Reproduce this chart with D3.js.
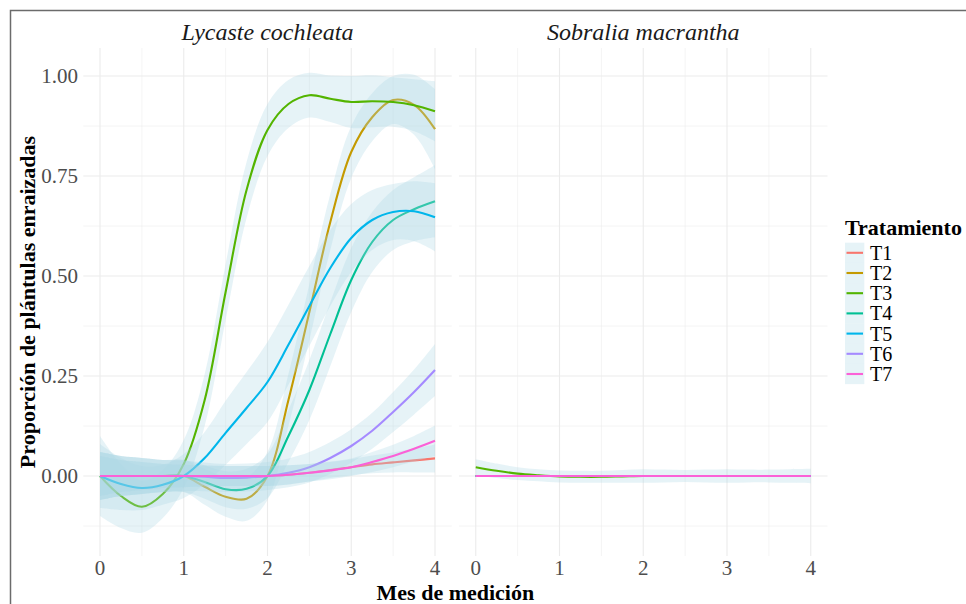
<!DOCTYPE html>
<html><head><meta charset="utf-8">
<script src="https://cdn.jsdelivr.net/npm/d3@7"></script>
<style>body{margin:0;background:#fff}svg{display:block}</style>
</head><body>
<svg id="chart" width="966" height="604"></svg>
<script>
// ---- data ----
const months = [0,0.25,0.5,0.75,1,1.25,1.5,1.75,2,2.25,2.5,2.75,3,3.25,3.5,3.75,4];
const treatments = ["T1","T2","T3","T4","T5","T6","T7"];
const treatmentColors = ["#F8766D","#C49A00","#53B400","#00C094","#00B6EB","#A58AFF","#FB61D7"];
const species = ["Lycaste cochleata","Sobralia macrantha"];
const xTicks = [0,1,2,3,4];
const yTicks = [0,0.25,0.5,0.75,1];

// Lycaste cochleata: smoothed fit and half-width of confidence band
const lycaste_T1 = [0,0,0,0,0,0,0,0,0,0.003,0.008,0.015,0.022,0.029,0.034,0.039,0.044];
const lycaste_T2 = [0,0,0,0,0,-0.027,-0.052,-0.057,0,0.19,0.41,0.635,0.81,0.897,0.94,0.928,0.867];
const lycaste_T3 = [0,-0.05,-0.077,-0.045,0.03,0.19,0.46,0.715,0.865,0.93,0.952,0.943,0.935,0.937,0.935,0.927,0.912];
const lycaste_T4 = [0,0,0,0,0,-0.015,-0.033,-0.032,0,0.1,0.215,0.355,0.49,0.585,0.64,0.667,0.687];
const lycaste_T5 = [0,-0.02,-0.03,-0.022,0,0.045,0.108,0.17,0.235,0.328,0.425,0.52,0.595,0.64,0.66,0.662,0.647];
const lycaste_T6 = [0,0,0,0,0,-0.002,-0.005,-0.004,0,0.008,0.022,0.045,0.075,0.113,0.16,0.21,0.265];
const lycaste_T7 = [0,0,0,0,0,0,0,0,0,0.003,0.008,0.014,0.022,0.035,0.05,0.068,0.088];

const lycaste_ci_T1 = [0.05,0.04,0.035,0.03,0.028,0.026,0.025,0.025,0.025,0.024,0.022,0.02,0.02,0.022,0.025,0.03,0.035];
const lycaste_ci_T2 = [0.06,0.05,0.045,0.04,0.04,0.045,0.05,0.055,0.06,0.065,0.07,0.07,0.065,0.06,0.06,0.075,0.1];
const lycaste_ci_T3 = [0.1,0.08,0.065,0.06,0.06,0.065,0.07,0.07,0.065,0.06,0.056,0.058,0.065,0.065,0.062,0.065,0.075];
const lycaste_ci_T4 = [0.06,0.05,0.045,0.04,0.04,0.042,0.045,0.05,0.055,0.065,0.075,0.08,0.08,0.075,0.075,0.08,0.09];
const lycaste_ci_T5 = [0.08,0.065,0.055,0.05,0.055,0.065,0.08,0.09,0.1,0.1,0.1,0.095,0.085,0.075,0.07,0.075,0.085];
const lycaste_ci_T6 = [0.06,0.05,0.045,0.04,0.038,0.036,0.035,0.035,0.035,0.036,0.038,0.04,0.042,0.045,0.05,0.056,0.065];
const lycaste_ci_T7 = [0.05,0.04,0.035,0.03,0.028,0.026,0.025,0.025,0.025,0.024,0.022,0.022,0.022,0.025,0.028,0.032,0.038];

// Sobralia macrantha
const sobralia_T3 = [0.022,0.013,0.006,0.002,-0.001,-0.002,-0.002,-0.001,0,0,0,0,0,0,0,0,0];
const sobralia_zero = [0,0,0,0,0,0,0,0,0,0,0,0,0,0,0,0,0];
const sobralia_ci_T3 = [0.02,0.018,0.016,0.015,0.015,0.015,0.015,0.016,0.017,0.016,0.015,0.016,0.017,0.016,0.016,0.017,0.018];

const panelFits = [
  [lycaste_T1,lycaste_T2,lycaste_T3,lycaste_T4,lycaste_T5,lycaste_T6,lycaste_T7],
  [sobralia_zero,sobralia_zero,sobralia_T3,sobralia_zero,sobralia_zero,sobralia_zero,sobralia_zero]
];
const panelCI = [
  [lycaste_ci_T1,lycaste_ci_T2,lycaste_ci_T3,lycaste_ci_T4,lycaste_ci_T5,lycaste_ci_T6,lycaste_ci_T7],
  [sobralia_zero,sobralia_zero,sobralia_ci_T3,sobralia_zero,sobralia_zero,sobralia_zero,sobralia_zero]
];

// ---- drawing ----
const svg = d3.select("#chart");
const FONT = "'Liberation Serif','Times New Roman',serif";
const ribbonFill = "#add8e6", ribbonOpacity = 0.3;
svg.append("rect").attr("width",966).attr("height",604).attr("fill","#fff");
svg.append("rect").attr("x",10.5).attr("y",10.5).attr("width",2000).attr("height",2000)
  .attr("fill","none").attr("stroke","#6b6b6b").attr("stroke-width",1.5);

const panelTop = 48, panelBottom = 556;
const y = d3.scaleLinear().domain([-0.2,1.07]).range([panelBottom, panelTop]);
const panels = [[83.25,451.75],[459,827.5]];
const curve = d3.curveCatmullRom.alpha(0.5);

panels.forEach((pr, p) => {
  const x = d3.scaleLinear().domain([-0.2,4.2]).range(pr);
  const g = svg.append("g");
  const minorX = xTicks.slice(0,-1).map(v=>v+0.5);
  const minorY = [-0.125].concat(yTicks.slice(0,-1).map(v=>v+0.125));
  minorX.forEach(v=>g.append("line").attr("x1",x(v)).attr("x2",x(v)).attr("y1",panelTop).attr("y2",panelBottom)
    .attr("stroke","#ebebeb").attr("stroke-width",0.55));
  minorY.forEach(v=>g.append("line").attr("x1",pr[0]).attr("x2",pr[1]).attr("y1",y(v)).attr("y2",y(v))
    .attr("stroke","#ebebeb").attr("stroke-width",0.55));
  xTicks.forEach(v=>g.append("line").attr("x1",x(v)).attr("x2",x(v)).attr("y1",panelTop).attr("y2",panelBottom)
    .attr("stroke","#ebebeb").attr("stroke-width",1.1));
  yTicks.forEach(v=>g.append("line").attr("x1",pr[0]).attr("x2",pr[1]).attr("y1",y(v)).attr("y2",y(v))
    .attr("stroke","#ebebeb").attr("stroke-width",1.1));

  const area = d3.area().x(d=>x(d.m)).y0(d=>y(d.v-d.c)).y1(d=>y(d.v+d.c)).curve(curve);
  const line = d3.line().x(d=>x(d.m)).y(d=>y(d.v)).curve(curve);
  treatments.forEach((t,i)=>{
    const pts = months.map((m,k)=>({m, v: panelFits[p][i][k], c: panelCI[p][i][k]}));
    g.append("path").attr("d",area(pts)).attr("fill",ribbonFill).attr("fill-opacity",ribbonOpacity);
    g.append("path").attr("d",line(pts)).attr("fill","none").attr("stroke",treatmentColors[i]).attr("stroke-width",2.1);
  });

  svg.append("text").attr("x",(pr[0]+pr[1])/2).attr("y",40).attr("text-anchor","middle")
    .attr("font-family",FONT).attr("font-style","italic").attr("font-size",24).attr("fill","#1a1a1a").text(species[p]);
  xTicks.forEach(v=>svg.append("text").attr("x",x(v)).attr("y",575).attr("text-anchor","middle")
    .attr("font-family",FONT).attr("font-size",21).attr("fill","#4d4d4d").text(d3.format("d")(v)));
});

yTicks.forEach(v=>svg.append("text").attr("x",78).attr("y",y(v)).attr("dy","0.35em").attr("text-anchor","end")
  .attr("font-family",FONT).attr("font-size",21).attr("fill","#4d4d4d").text(d3.format(".2f")(v)));

svg.append("text").attr("x",455.4).attr("y",600).attr("text-anchor","middle")
  .attr("font-family",FONT).attr("font-weight","bold").attr("font-size",22).attr("fill","#000").text("Mes de medición");
svg.append("text").attr("transform",`translate(35,${(panelTop+panelBottom)/2}) rotate(-90)`).attr("text-anchor","middle")
  .attr("font-family",FONT).attr("font-weight","bold").attr("font-size",22).attr("fill","#000").text("Proporción de plántulas enraizadas");

const lg = svg.append("g");
lg.append("text").attr("x",845).attr("y",235).attr("font-family",FONT).attr("font-weight","bold")
  .attr("font-size",22).attr("fill","#000").text("Tratamiento");
treatments.forEach((t,i)=>{
  const ky = 242.7 + i*20.2;
  lg.append("rect").attr("x",845).attr("y",ky).attr("width",19.3).attr("height",20.2)
    .attr("fill",ribbonFill).attr("fill-opacity",ribbonOpacity);
  lg.append("line").attr("x1",846.5).attr("x2",863).attr("y1",ky+10.1).attr("y2",ky+10.1)
    .attr("stroke",treatmentColors[i]).attr("stroke-width",2.1);
  lg.append("text").attr("x",870).attr("y",ky+10.1).attr("dy","0.35em").attr("font-family",FONT)
    .attr("font-size",20).attr("fill","#000").text(t);
});
</script>
</body></html>
